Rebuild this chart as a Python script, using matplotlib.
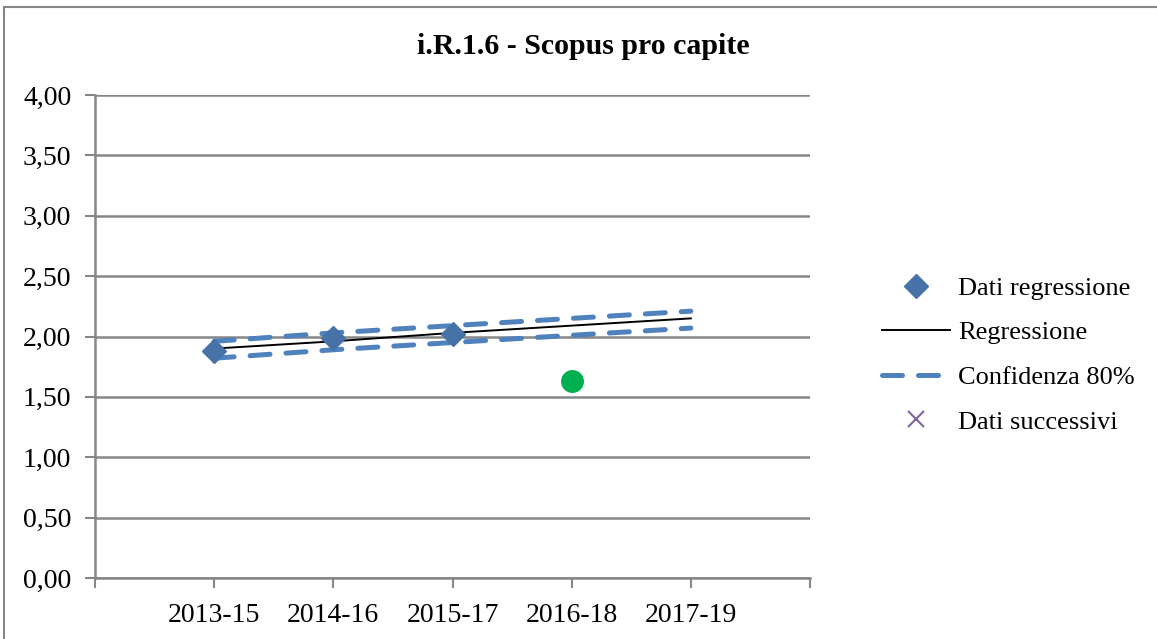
import matplotlib.pyplot as plt
from matplotlib.lines import Line2D
from matplotlib.patches import Rectangle

plt.rcParams['font.family'] = ['Liberation Serif', 'DejaVu Serif']

# dati
periodi = ['2013-15', '2014-16', '2015-17', '2016-18', '2017-19']
dati_regressione = [1.88, 1.99, 2.02]
regressione = [1.90, 1.96, 2.03, 2.09, 2.15]
conf_sup = [1.96, 2.03, 2.09, 2.15, 2.21]
conf_inf = [1.82, 1.89, 1.95, 2.01, 2.07]
dati_successivi = [1.63]  # 2016-18

x = list(range(1, len(periodi) + 1))

blu = '#4F81BD'
grigio = '#868686'

fig = plt.figure(figsize=(11.57, 6.39), dpi=100)
ax = fig.add_axes([95 / 1157, 1 - 578 / 639, 715 / 1157, (578 - 95) / 639])

# bordo dell'area del grafico
fig.patches.append(Rectangle((4 / 1157, -0.1), 1.2, 1 - 7 / 639 + 0.1,
                             transform=fig.transFigure, fill=False,
                             edgecolor=grigio, linewidth=1.5))

ax.plot(x, conf_sup, color=blu, linewidth=3.6, dashes=(4, 3.2),
        dash_capstyle='round', zorder=3)
ax.plot(x, conf_inf, color=blu, linewidth=3.6, dashes=(4, 3.2),
        dash_capstyle='round', zorder=3)
ax.plot(x, regressione, color='black', linewidth=1.4, zorder=4)
ax.plot(x[:len(dati_regressione)], dati_regressione, linestyle='none',
        marker='D', markersize=12, color='#4672A8', zorder=5)
ax.plot([x[3]], dati_successivi, linestyle='none', marker='o',
        markersize=15.5, color='#00B050', zorder=5)

ax.set_xlim(0, 6)
ax.set_ylim(0, 4)
ax.set_xticks(range(0, 7))
ax.set_xticklabels([''] + periodi + [''], fontsize=20)
yt = [i * 0.5 for i in range(9)]
ax.set_yticks(yt)
ax.set_yticklabels([f'{v:.2f}'.replace('.', ',') for v in yt], fontsize=20)
ax.tick_params(axis='both', color=grigio, length=7, width=1.5, direction='out')
ax.tick_params(axis='x', pad=11)
ax.tick_params(axis='y', pad=10)
ax.yaxis.grid(True, color=grigio, linewidth=1.8)
ax.set_axisbelow(True)
for s in ['top', 'right']:
    ax.spines[s].set_visible(False)
for s in ['left', 'bottom']:
    ax.spines[s].set_color(grigio)
    ax.spines[s].set_linewidth(1.8)

fig.text(583 / 1157, 1 - 46 / 639, 'i.R.1.6 - Scopus pro capite',
         ha='center', va='center', fontsize=21.5, fontweight='bold')

handles = [
    Line2D([], [], linestyle='none', marker='D', markersize=12, color='#4672A8'),
    Line2D([], [], color='black', linewidth=1.4),
    Line2D([], [], color=blu, linewidth=3.6, dashes=(4, 3.2), dash_capstyle='round'),
    Line2D([], [], linestyle='none', marker='x', markersize=11, color='#8064A2',
           markeredgewidth=1.5),
]
labels = ['Dati regressione', 'Regressione', 'Confidenza 80%', 'Dati successivi']
fig.legend(handles, labels, loc='center left', bbox_to_anchor=(858 / 1157, 1 - 355 / 639),
           frameon=False, fontsize=19, handlelength=2.6, handletextpad=0.3,
           labelspacing=0.8)

fig.savefig('out.png', dpi=100)
